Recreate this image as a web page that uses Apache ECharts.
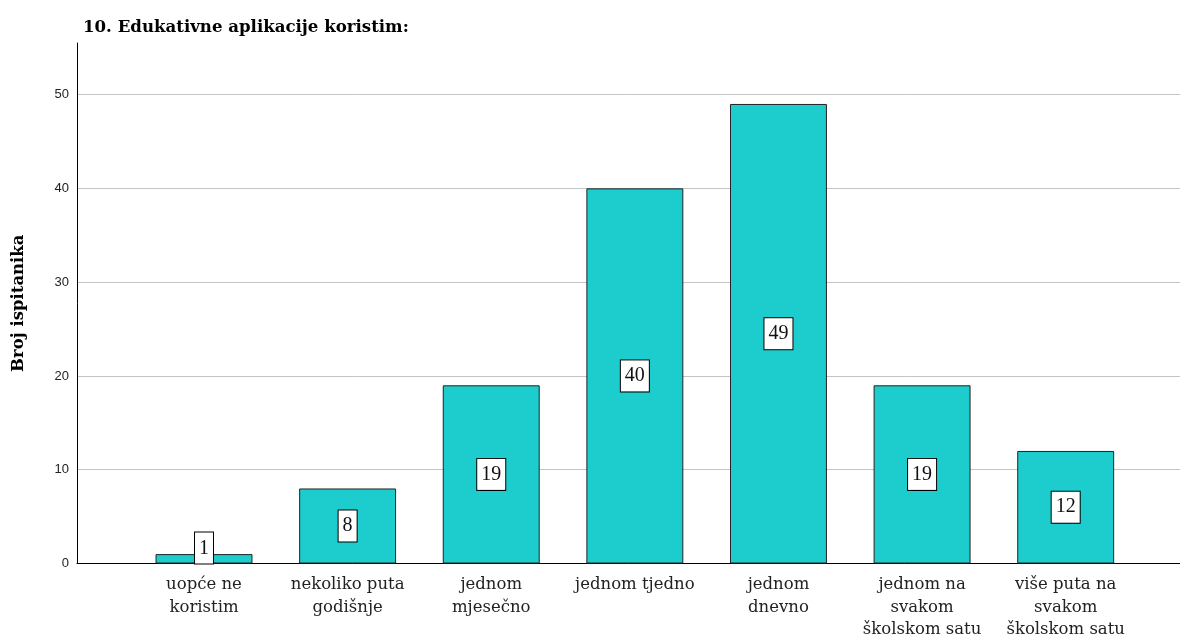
<!DOCTYPE html>
<html>
<head>
<meta charset="utf-8">
<script src="https://cdn.jsdelivr.net/npm/echarts@6/dist/echarts.min.js"></script>
<style>
html,body{margin:0;padding:0;background:#fff;}
#chart{width:1180px;height:638px;}
</style>
</head>
<body>
<div id="chart"></div>
<script>
const titleText = '10. Edukativne aplikacije koristim:';
const yAxisName = 'Broj ispitanika';
const categories = [
  'uopće ne\nkoristim',
  'nekoliko puta\ngodišnje',
  'jednom\nmjesečno',
  'jednom tjedno',
  'jednom\ndnevno',
  'jednom na\nsvakom\nškolskom satu',
  'više puta na\nsvakom\nškolskom satu'
];
const counts = [1, 8, 19, 40, 49, 19, 12];
const yMin = 0, yMax = 55.5, yInterval = 10;

const chart = echarts.init(document.getElementById('chart'), null, {renderer: 'canvas'});
const serif = '"Liberation Serif", "DejaVu Serif", serif';
const wideSerif = '"DejaVu Serif", "Liberation Serif", serif';

const option = {
  backgroundColor: '#fff',
  animation: false,
  title: {
    text: titleText,
    left: 78, top: 14,
    textStyle: {fontFamily: wideSerif, fontWeight: 'bold', fontSize: 16.6, color: '#000'}
  },
  grid: [
    {left: 77, right: 0, top: 43, bottom: 74.5, containLabel: false, outerBoundsMode: 'none'},
    {left: 132.2, right: 42.5, top: 43, bottom: 74.5, containLabel: false, outerBoundsMode: 'none'}
  ],
  xAxis: [
    {gridIndex: 0, type: 'value', min: 0, max: 1,
      axisLine: {show: true, lineStyle: {color: '#000', width: 1}},
      axisTick: {show: false}, axisLabel: {show: false}, splitLine: {show: false}},
    {gridIndex: 1, type: 'category', data: categories,
      axisLine: {show: false}, axisTick: {show: false},
      axisLabel: {margin: 10, interval: 0, fontFamily: wideSerif, fontSize: 16.5, lineHeight: 22.5, color: '#222'}}
  ],
  yAxis: [
    {gridIndex: 0, type: 'value', min: yMin, max: yMax, interval: yInterval,
      name: yAxisName, nameLocation: 'middle', nameGap: 50,
      nameTextStyle: {fontFamily: wideSerif, fontWeight: 'bold', fontSize: 16.5, color: '#000'},
      axisLine: {show: true, lineStyle: {color: '#000', width: 1}},
      axisTick: {show: false},
      axisLabel: {showMaxLabel: false, margin: 8, fontFamily: '"Liberation Sans", Arial, sans-serif', fontSize: 13, color: '#222'},
      splitLine: {show: true, showMaxLine: false, lineStyle: {color: '#c4c4c4', width: 1}}},
    {gridIndex: 1, type: 'value', min: yMin, max: yMax, interval: yInterval, show: false,
      splitLine: {show: false}}
  ],
  series: [{
    type: 'bar',
    xAxisIndex: 1, yAxisIndex: 1,
    barWidth: '67.5%',
    data: counts.map(v => v < 3 ? {value: v, label: {position: 'insideBottom', distance: 0}} : v),
    itemStyle: {color: '#1dcdcd', borderColor: '#222', borderWidth: 1},
    label: {
      show: true, position: 'inside',
      backgroundColor: '#fff', borderColor: '#000', borderWidth: 1,
      padding: [6, 4, 5, 4],
      fontFamily: serif, fontSize: 20, color: '#111'
    }
  }]
};
chart.setOption(option);
</script>
</body>
</html>
